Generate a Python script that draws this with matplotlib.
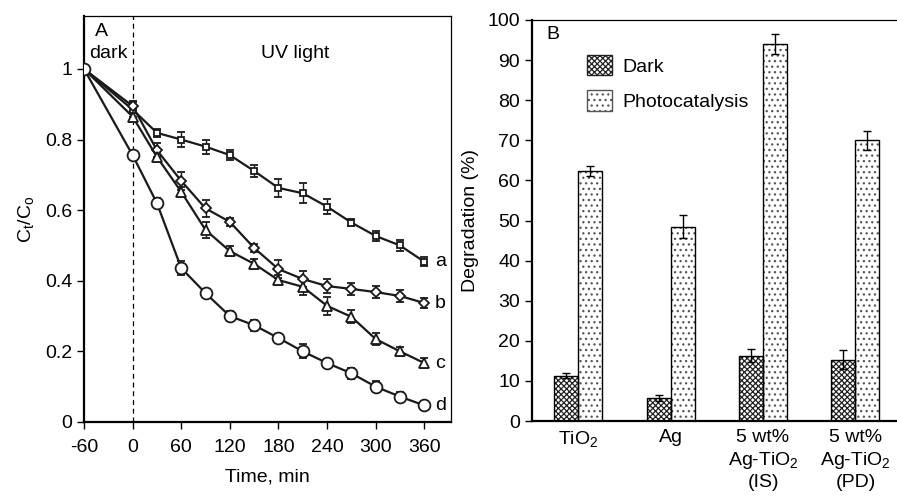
import matplotlib
matplotlib.use("Agg")
import matplotlib.pyplot as plt
import numpy as np
from matplotlib.patches import Patch

plt.rcParams['font.family'] = ['Liberation Sans', 'DejaVu Sans']
plt.rcParams['font.size'] = 14
plt.rcParams['mathtext.fontset'] = 'custom'
plt.rcParams['mathtext.rm'] = 'Liberation Sans'
plt.rcParams['axes.unicode_minus'] = False
plt.rcParams['hatch.linewidth'] = 0.9

FS = 14

# ---- Panel A data ----
time = [-60, 0, 30, 60, 90, 120, 150, 180, 210, 240, 270, 300, 330, 360]
a_vals = [1.0, 0.885, 0.819, 0.80, 0.78, 0.756, 0.711, 0.663, 0.648, 0.61, 0.565, 0.527, 0.50, 0.454]
a_err = [0.0, 0.02, 0.012, 0.022, 0.02, 0.015, 0.018, 0.025, 0.028, 0.022, 0.01, 0.015, 0.015, 0.012]
b_vals = [1.0, 0.895, 0.77, 0.683, 0.605, 0.567, 0.493, 0.433, 0.405, 0.385, 0.377, 0.368, 0.357, 0.337]
b_err = [0.0, 0.015, 0.02, 0.025, 0.025, 0.012, 0.012, 0.025, 0.022, 0.02, 0.018, 0.018, 0.018, 0.015]
c_vals = [1.0, 0.865, 0.751, 0.652, 0.544, 0.484, 0.448, 0.402, 0.383, 0.329, 0.298, 0.235, 0.2, 0.167]
c_err = [0.0, 0.015, 0.015, 0.015, 0.022, 0.015, 0.015, 0.015, 0.022, 0.025, 0.018, 0.018, 0.012, 0.015]
d_vals = [1.0, 0.756, 0.62, 0.436, 0.365, 0.30, 0.274, 0.238, 0.2, 0.167, 0.138, 0.10, 0.072, 0.047]
d_err = [0.0, 0.012, 0.015, 0.02, 0.012, 0.015, 0.015, 0.012, 0.02, 0.012, 0.015, 0.015, 0.012, 0.01]
series_labels = ['a', 'b', 'c', 'd']

# ---- Panel B data ----
catalysts = [r'TiO$_\mathregular{2}$', 'Ag',
             '5 wt%\n' + r'Ag-TiO$_\mathregular{2}$' + '\n(IS)',
             '5 wt%\n' + r'Ag-TiO$_\mathregular{2}$' + '\n(PD)']
dark = [11.3, 5.7, 16.3, 15.3]
dark_err = [0.6, 0.8, 1.6, 2.3]
photo = [62.3, 48.5, 94.0, 70.0]
photo_err = [1.2, 2.8, 2.4, 2.4]

W, H = 897, 496
fig = plt.figure(figsize=(W / 100, H / 100), dpi=100)

axA = fig.add_axes([84 / W, 1 - 422 / H, (451 - 84) / W, (422 - 16) / H])
markers = [('s', 5.0), ('D', 5.5), ('^', 6.5), ('o', 8.5)]
for vals, err, (m, ms), lab in zip([a_vals, b_vals, c_vals, d_vals],
                                   [a_err, b_err, c_err, d_err], markers, series_labels):
    axA.errorbar(time, vals, yerr=err, color='#1a1a1a', lw=1.6, marker=m, ms=ms,
                 mfc='white', mec='#1a1a1a', mew=1.3, capsize=3, elinewidth=1.0,
                 capthick=1.0, zorder=3)
    axA.text(time[-1] + 13, vals[-1], lab, va='center', ha='left', fontsize=FS)

axA.axvline(0, color='black', lw=0.9, ls=(0, (4, 3)), zorder=1)
axA.set_xlim(-60, 393)
axA.set_ylim(0, 1.15)
axA.set_xticks([-60, 0, 60, 120, 180, 240, 300, 360])
axA.set_yticks([0, 0.2, 0.4, 0.6, 0.8, 1.0])
axA.set_yticklabels(['0', '0.2', '0.4', '0.6', '0.8', '1'])
axA.tick_params(direction='out', length=5, width=1, labelsize=FS)
axA.tick_params(axis='x', pad=7)
axA.set_xlabel('Time, min', fontsize=FS, labelpad=9)
axA.set_ylabel(r'C$_\mathregular{t}$/C$_\mathregular{o}$', fontsize=FS, labelpad=6)
for s in ['left', 'bottom']:
    axA.spines[s].set_linewidth(1.6)
for s in ['top', 'right']:
    axA.spines[s].set_linewidth(0.9)
axA.text(-47, 1.105, 'A', fontsize=FS, va='center', ha='left')
axA.text(-54, 1.045, 'dark', fontsize=FS, va='center', ha='left')
axA.text(201, 1.045, 'UV light', fontsize=FS, va='center', ha='center')

# ---- Panel B ----
axB = fig.add_axes([532 / W, 1 - 421 / H, (897 - 532) / W, (421 - 20) / H])
x = np.arange(len(catalysts))
bw = 0.26
axB.bar(x - bw / 2, dark, bw, color='white', edgecolor='#222222', hatch='xxxxxx', lw=0, zorder=2)
axB.bar(x - bw / 2, dark, bw, color='none', edgecolor='black', lw=1.0, zorder=3)
axB.bar(x + bw / 2, photo, bw, color='white', edgecolor='#555555', hatch='...', lw=0, zorder=2)
axB.bar(x + bw / 2, photo, bw, color='none', edgecolor='black', lw=1.0, zorder=3)
axB.errorbar(x - bw / 2, dark, yerr=dark_err, fmt='none', ecolor='black', capsize=3,
             elinewidth=1.0, capthick=1.0, zorder=4)
axB.errorbar(x + bw / 2, photo, yerr=photo_err, fmt='none', ecolor='black', capsize=3,
             elinewidth=1.0, capthick=1.0, zorder=4)
axB.set_xlim(-0.5, 3.45)
axB.set_ylim(0, 100)
axB.set_yticks(range(0, 101, 10))
axB.set_xticks(x)
axB.set_xticklabels(catalysts, linespacing=1.25)
axB.tick_params(axis='x', length=0, labelsize=FS, pad=6)
axB.tick_params(axis='y', direction='out', length=5, width=1, labelsize=FS)
axB.set_ylabel('Degradation (%)', fontsize=FS, labelpad=6)
axB.spines['right'].set_visible(False)
for s in ['left', 'bottom']:
    axB.spines[s].set_linewidth(1.6)
axB.spines['top'].set_linewidth(0.9)
axB.text(-0.34, 96.3, 'B', fontsize=FS, va='center', ha='left')
handles = [Patch(facecolor='white', edgecolor='#222222', hatch='xxxxxx', lw=1.0),
           Patch(facecolor='white', edgecolor='#555555', hatch='...', lw=1.0)]
axB.legend(handles, ['Dark', 'Photocatalysis'], loc='upper left', bbox_to_anchor=(0.151, 0.913),
           frameon=False, handlelength=1.3, handleheight=1.25, fontsize=FS, labelspacing=0.75,
           handletextpad=0.5, borderpad=0, borderaxespad=0)

fig.savefig('out.png', dpi=100)
